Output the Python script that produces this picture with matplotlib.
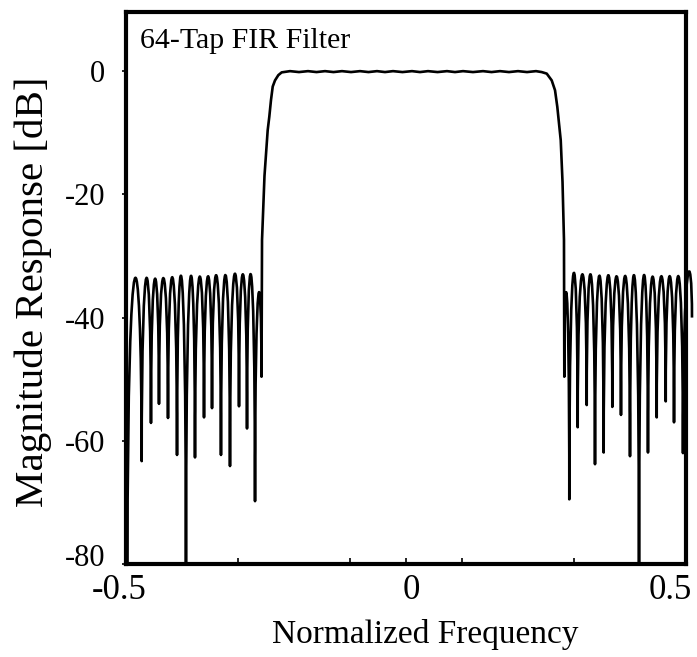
import matplotlib
matplotlib.use('Agg')
import matplotlib.pyplot as plt
from matplotlib.path import Path
from matplotlib.patches import PathPatch
from matplotlib.transforms import ScaledTranslation

plt.rcParams['font.family'] = ['Liberation Serif', 'DejaVu Serif']
plt.rcParams['axes.unicode_minus'] = False

#
# values
#
# left stopband: nulls (outer -> inner) and the lobe peaks between them
left_null_f = [-0.4973, -0.4720, -0.4554, -0.4411, -0.4250, -0.4089, -0.3929,
               -0.3768, -0.3607, -0.3464, -0.3304, -0.3143, -0.2982, -0.2839,
               -0.2696, -0.2580]
left_null_db = [-80.0, -63.3, -57.1, -54.0, -56.3, -62.3, -80.0,
                -62.7, -56.2, -54.7, -62.3, -64.1, -54.4, -58.0,
                -69.8, -49.6]
left_peak_db = [-33.8, -33.6, -33.7, -33.6, -33.5, -33.5, -33.5, -33.4,
                -33.3, -33.2, -33.1, -33.0, -33.0, -33.1, -36.5]

# transition bands and passband ripple
pass_f = [-0.2571, -0.2527, -0.2470, -0.2441, -0.2411, -0.2380, -0.2339,
          -0.2280, -0.2220,
          -0.2071, -0.1911, -0.1750, -0.1598, -0.1446, -0.1295, -0.1143,
          -0.0982, -0.0821, -0.0670, -0.0518, -0.0375, -0.0232, -0.0063,
          0.0107, 0.0250, 0.0393, 0.0563, 0.0732, 0.0875, 0.1018, 0.1196,
          0.1375, 0.1527, 0.1679, 0.1839, 0.2000, 0.2161, 0.2321,
          0.2423, 0.2513, 0.2602, 0.2661, 0.2702, 0.2738, 0.2763, 0.2795,
          0.2821]
pass_db = [-27.4, -17.0, -9.6, -7.4, -4.7, -2.5, -1.5, -0.65, -0.2,
           0.0, -0.15, 0.0, -0.15, 0.0, -0.15, 0.0, -0.15, 0.0, -0.15, 0.0,
           -0.15, 0.0, -0.15, 0.0, -0.15, 0.0, -0.15, 0.0, -0.15, 0.0, -0.15,
           0.0, -0.15, 0.0, -0.15, 0.0, -0.15, 0.0,
           -0.15, -0.4, -1.5, -3.1, -5.8, -9.0, -11.2, -18.0, -27.4]

# right stopband: nulls (inner -> outer) and the lobe peaks between them
right_null_f = [0.2827, 0.2916, 0.3066, 0.3227, 0.3375, 0.3530, 0.3684,
                0.3839, 0.4000, 0.4161, 0.4321, 0.4477, 0.4638, 0.4786,
                0.4946, 0.5107]
right_null_db = [-49.6, -69.5, -57.8, -54.2, -63.8, -61.9, -54.5,
                 -55.8, -62.5, -80.0, -61.9, -56.2, -53.6, -57.0,
                 -62.0, -40.0]
right_peak_db = [-36.5, -32.9, -33.0, -33.1, -33.2, -33.2, -33.3, -33.3,
                 -33.4, -33.4, -33.4, -33.3, -33.3, -33.3, -33.5]

yticks = [0, -20, -40, -60, -80]
xticks = [-0.5, 0, 0.5]
xticklabels = ['-0.5', '0', '0.5']


def add_lobes(verts, codes, null_f, null_db, peak_db):
    ''' Each sidelobe as a cubic curve from null to null,
        control points placed above the nulls so the top reaches the peak. '''
    for i, p in enumerate(peak_db):
        f0, n0 = null_f[i], null_db[i]
        f1, n1 = null_f[i + 1], null_db[i + 1]
        h = (8 * p - n0 - n1) / 6.0
        verts += [(f0, h), (f1, h), (f1, n1)]
        codes += [Path.CURVE4] * 3


verts = [(left_null_f[0], left_null_db[0])]
codes = [Path.MOVETO]
add_lobes(verts, codes, left_null_f, left_null_db, left_peak_db)
for f, d in zip(pass_f, pass_db):
    verts.append((f, d))
    codes.append(Path.LINETO)
verts.append((right_null_f[0], right_null_db[0]))
codes.append(Path.LINETO)
add_lobes(verts, codes, right_null_f, right_null_db, right_peak_db)

fig = plt.figure(figsize=(6.97, 6.57), dpi=100)
ax = fig.add_axes([126 / 697, 93 / 657, 560 / 697, 552 / 657])

ax.add_patch(PathPatch(Path(verts, codes), fill=False, ec='black', lw=1.9,
                       joinstyle='round', clip_on=False, zorder=3))

ax.set_xlim(-0.5, 0.5)
ax.set_ylim(-80, 9.6)
ax.set_yticks(yticks)
ax.set_yticklabels([str(v) for v in yticks])
ax.set_xticks(xticks)
ax.set_xticklabels(xticklabels)
ax.set_xticks([-0.3, -0.1, 0.1, 0.3], minor=True)

for s in ax.spines.values():
    s.set_linewidth(3)
ax.tick_params(axis='y', direction='out', length=3, width=1.2,
               labelsize=22, pad=12)
ax.tick_params(axis='x', which='major', direction='in', length=4, width=1.2,
               labelsize=25, pad=7)
ax.tick_params(axis='x', which='minor', direction='in', length=4, width=1.2)

# nudge tick labels to where the original has them (pixels)
for lab, dx in zip(ax.get_xticklabels(), [-7, 5, -16]):
    lab.set_transform(lab.get_transform()
                      + ScaledTranslation(dx / 100, 0, fig.dpi_scale_trans))
ylab = ax.get_yticklabels()[-1]
ylab.set_transform(ylab.get_transform()
                   + ScaledTranslation(0, 9 / 100, fig.dpi_scale_trans))

ax.set_xlabel('Normalized Frequency', fontsize=24)
ax.xaxis.set_label_coords(0.534, -0.1)
ax.set_ylabel('Magnitude Response [dB]', fontsize=29.5)
ax.yaxis.set_label_coords(-0.132, 0.493)

ax.text(0.025, 0.935, '64-Tap FIR Filter', transform=ax.transAxes,
        fontsize=21.5, va='baseline', ha='left')

fig.savefig('out.png', dpi=100)
